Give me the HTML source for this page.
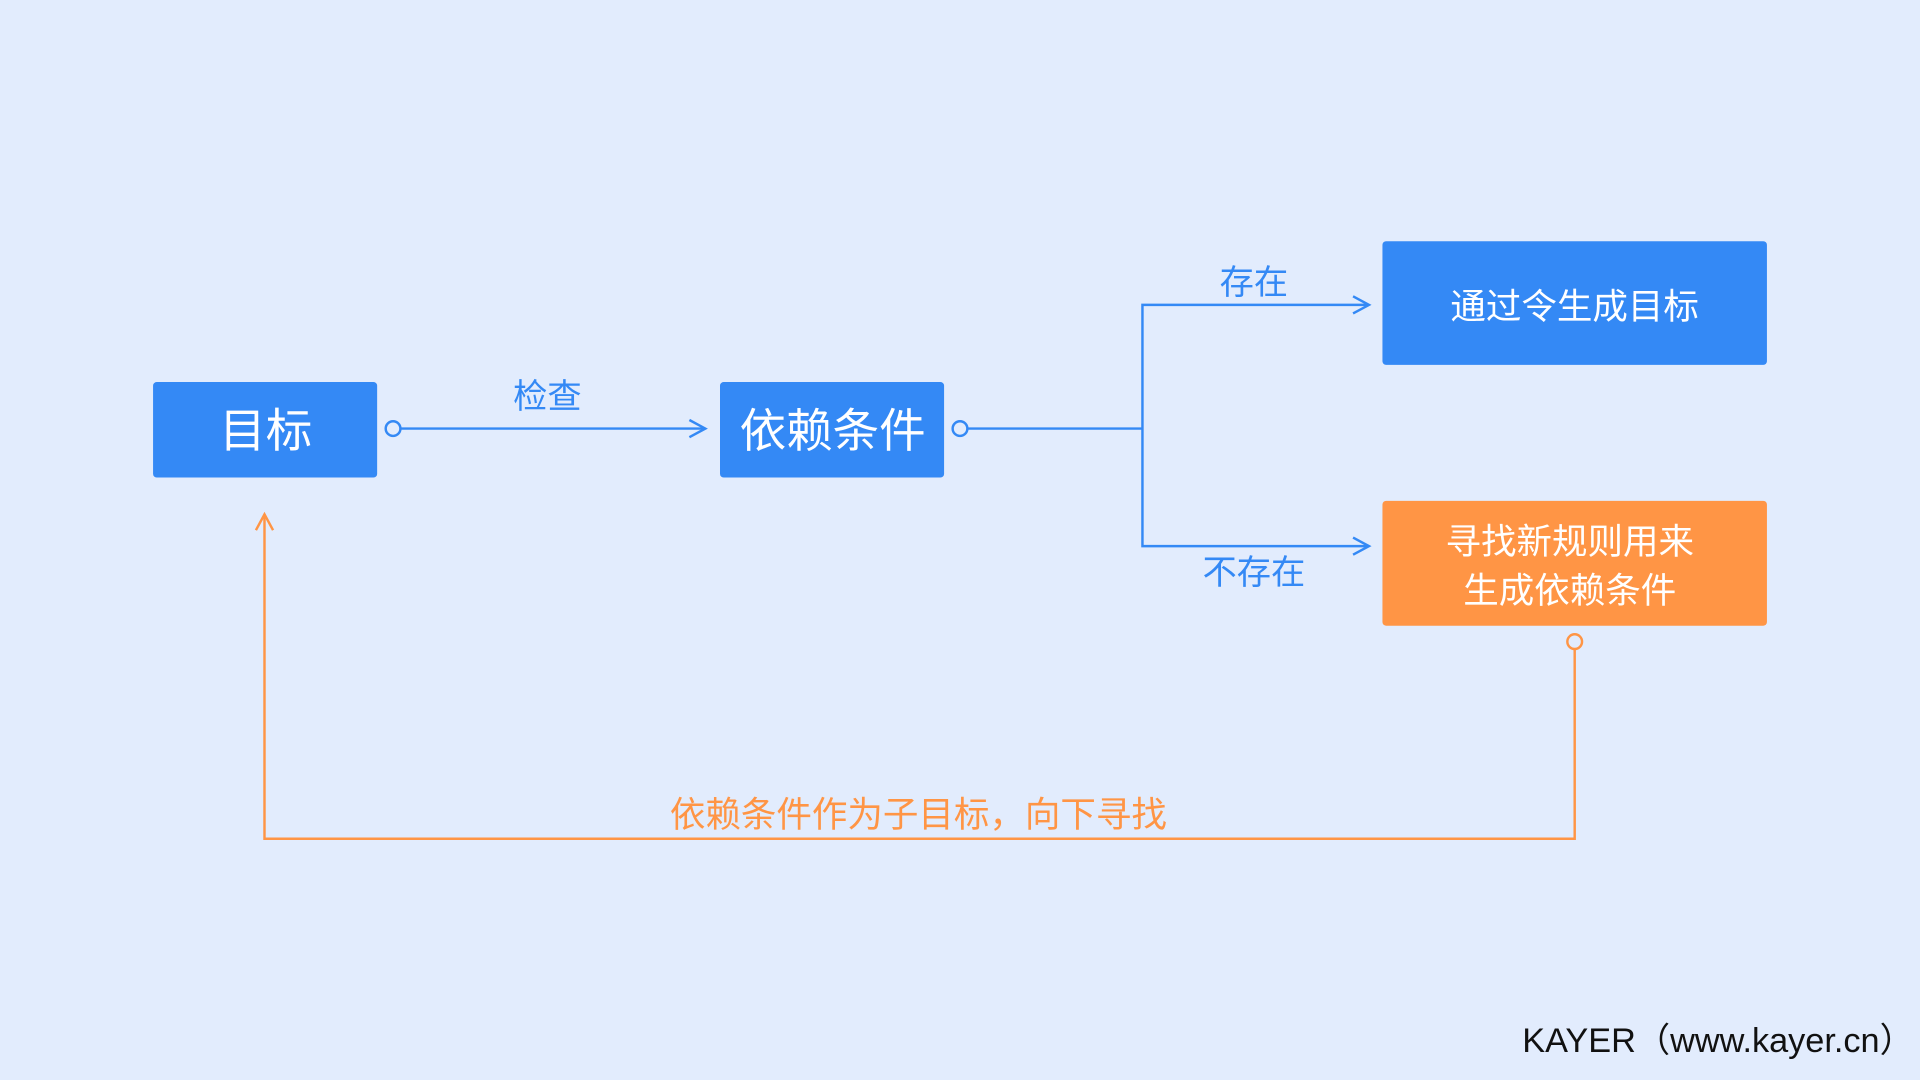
<!DOCTYPE html>
<html><head><meta charset="utf-8"><style>
html,body{margin:0;padding:0;background:#e2ecfd;}
svg{display:block}
text{font-family:"Liberation Sans","Noto Sans CJK SC",sans-serif;}
</style></head><body>
<svg width="1920" height="1080" viewBox="0 0 1568 882" xmlns="http://www.w3.org/2000/svg">
<rect width="1568" height="882" fill="#e2ecfd"/>
<g fill="#3489f5">
<rect x="125" y="312" width="183" height="78" rx="3"/>
<rect x="588" y="312" width="183" height="78" rx="3"/>
<rect x="1129" y="197" width="314" height="101" rx="3"/>
</g>
<rect x="1129" y="409" width="314" height="102" rx="3" fill="#ff9545"/>
<g fill="#fff" text-anchor="middle">
<text x="217" y="365" font-size="38">目标</text>
<text x="680" y="365" font-size="38">依赖条件</text>
<text x="1286" y="260" font-size="29">通过令生成目标</text>
<text x="1282" y="452" font-size="29">寻找新规则用来</text>
<text x="1282" y="492" font-size="29">生成依赖条件</text>
</g>
<g stroke="#3489f5" stroke-width="2" fill="none">
<circle cx="321" cy="350" r="6"/>
<line x1="327" y1="350" x2="576" y2="350"/>
<polyline points="563,343 576,350 563,357"/>
<circle cx="784" cy="350" r="6"/>
<line x1="790" y1="350" x2="933" y2="350"/>
<polyline points="1118,249 933,249 933,446 1118,446"/>
<polyline points="1105,242 1118,249 1105,256"/>
<polyline points="1105,439 1118,446 1105,453"/>
</g>
<g fill="#3489f5" font-size="28" text-anchor="middle">
<text x="447" y="333">检查</text>
<text x="1024" y="240">存在</text>
<text x="1024" y="477">不存在</text>
</g>
<g stroke="#ff9545" stroke-width="2" fill="none">
<circle cx="1286" cy="524" r="6"/>
<polyline points="1286,530 1286,685 216,685 216,420"/>
<polyline points="209,433 216,420 223,433"/>
</g>
<text x="750" y="675" font-size="29" fill="#ff9545" text-anchor="middle">依赖条件作为子目标，向下寻找</text>
<text x="1563" y="859" font-size="28" fill="#111" text-anchor="end">KAYER（www.kayer.cn）</text>
</svg>
</body></html>
